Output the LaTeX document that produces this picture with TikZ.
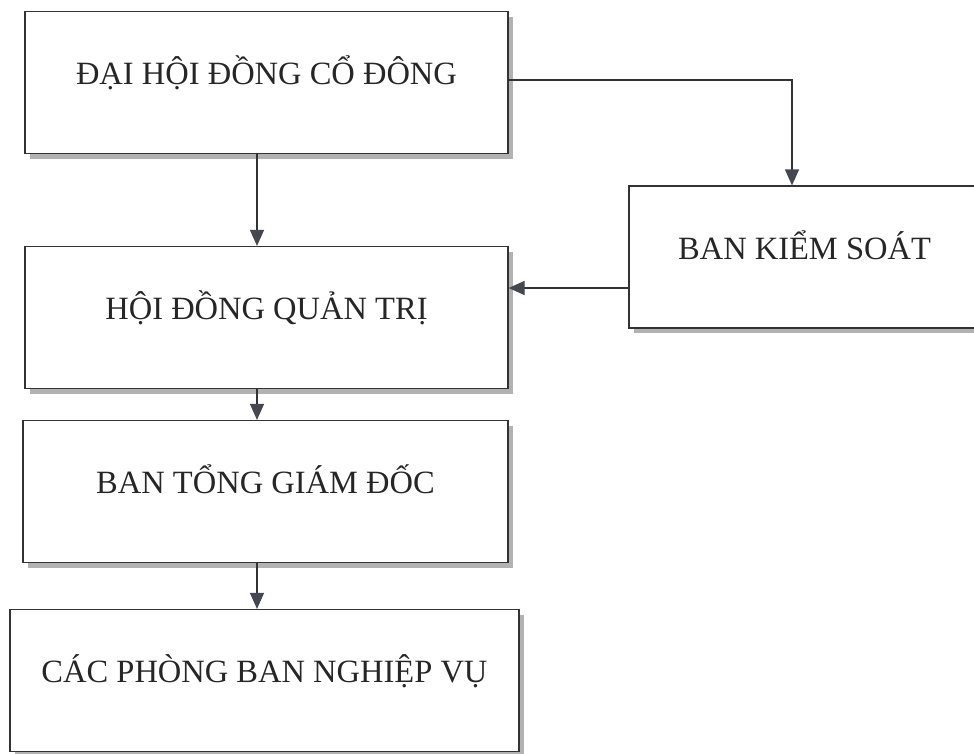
\documentclass[tikz,border=0pt]{standalone}
\usepackage{fontspec}
\setmainfont{Liberation Serif}
\usetikzlibrary{arrows.meta,shadows}
\definecolor{linegray}{HTML}{333333}
\definecolor{tipgray}{HTML}{444850}
\tikzset{
  orgbox/.style={draw=linegray, line width=1.2pt, fill=white, rectangle,
    minimum height=142pt, inner sep=0pt, font=\fontsize{32.5}{38}\selectfont,
    text height=0.7em, text depth=0.22em, text=black!85,
    drop shadow={shadow xshift=5pt, shadow yshift=-5pt, fill=gray!60, opacity=1}},
  orgarrow/.style={draw=linegray, line width=1.2pt,
    -{Triangle[length=16pt, width=14pt, fill=tipgray, color=tipgray]}}
}
\begin{document}
\begin{tikzpicture}[x=1pt, y=-1pt]
  \clip (0,0) rectangle (974,753);
  \fill[white] (0,0) rectangle (974,753);
  \node[orgbox, minimum width=483pt] (dhdcd) at (266.5,82.5) {ĐẠI HỘI ĐỒNG CỔ ĐÔNG};
  \node[orgbox, minimum width=483pt] (hdqt) at (266.5,317.5) {HỘI ĐỒNG QUẢN TRỊ};
  \node[orgbox, minimum width=485pt] (btgd) at (265.5,491.5) {BAN TỔNG GIÁM ĐỐC};
  \node[orgbox, minimum width=509pt] (cpbnv) at (264.5,680.5) {CÁC PHÒNG BAN NGHIỆP VỤ};
  \node[orgbox, minimum width=351pt] (bks) at (804.5,257) {BAN KIỂM SOÁT};
  \coordinate (spine) at (257,0);
  \coordinate (tap) at (792,80);
  \coordinate (back) at (0,288);
  \draw[orgarrow] (dhdcd.south -| spine) -- (hdqt.north -| spine);
  \draw[orgarrow] (hdqt.south -| spine) -- (btgd.north -| spine);
  \draw[orgarrow] (btgd.south -| spine) -- (cpbnv.north -| spine);
  \draw[orgarrow] (dhdcd.east |- tap) -| (bks.north -| tap);
  \draw[orgarrow] (bks.west |- back) -- (hdqt.east |- back);
\end{tikzpicture}
\end{document}
